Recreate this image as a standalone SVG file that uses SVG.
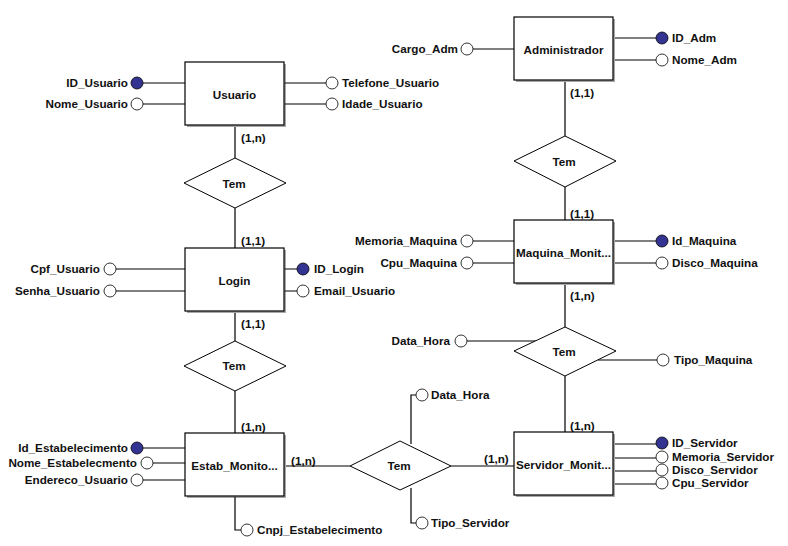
<svg xmlns="http://www.w3.org/2000/svg" width="788" height="546" viewBox="0 0 788 546">
<style>
text{font-family:"Liberation Sans",Arial,sans-serif;font-weight:bold;font-size:11.7px;fill:#111}
.c{text-anchor:middle}
.e{text-anchor:end}
.box{fill:#fff;stroke:#000;stroke-width:1.2}
.sh{fill:#a8a8a8}
.rel{fill:#fff;stroke:#000;stroke-width:1}
.ln{fill:none;stroke:#000;stroke-width:1.2}
.pk{fill:#333391;stroke:#000;stroke-width:0.8}
.at{fill:#fff;stroke:#000;stroke-width:0.8}
</style>
<rect width="788" height="546" fill="#fff"/>
<g id="connectors">
<path class="ln" d="M235 126V158M235 208V248M235 312V341M235 391V433"/>
<path class="ln" d="M565 81V136M565 187V220M565 284V327M565 376V432"/>
<path class="ln" d="M285 466H350M451 466H515"/>
<text x="241" y="142">(1,n)</text>
<text x="241" y="245">(1,1)</text>
<text x="241" y="328">(1,1)</text>
<text x="241" y="431">(1,n)</text>
<text x="291" y="465">(1,n)</text>
<text x="484" y="463">(1,n)</text>
<text x="570" y="97">(1,1)</text>
<text x="570" y="218">(1,1)</text>
<text x="570" y="300">(1,n)</text>
<text x="570" y="430">(1,n)</text>
</g>
<g id="usuario">
<rect class="sh" x="187" y="64" width="99" height="63"/>
<rect class="box" x="185" y="62" width="99" height="63"/>
<text class="c" x="234.5" y="99">Usuario</text>
</g>
<g id="attr-usuario">
<path class="ln" d="M143 83H185M143 104H185M285 83H326M285 104H326"/>
<circle class="pk" cx="137" cy="83" r="6"/><text class="e" x="128" y="87">ID_Usuario</text>
<circle class="at" cx="137" cy="104" r="6"/><text class="e" x="128" y="108">Nome_Usuario</text>
<circle class="at" cx="332" cy="83" r="6"/><text x="342" y="87">Telefone_Usuario</text>
<circle class="at" cx="332" cy="104" r="6"/><text x="342" y="108">Idade_Usuario</text>
</g>
<g id="tem1">
<polygon class="rel" points="235,158 286,183 235,208 184,183"/>
<text class="c" x="234" y="188">Tem</text>
</g>
<g id="login">
<rect class="sh" x="187" y="250" width="99" height="63"/>
<rect class="box" x="185" y="248" width="99" height="63"/>
<text class="c" x="234.5" y="285">Login</text>
</g>
<g id="attr-login">
<path class="ln" d="M116 269H185M116 291H185M285 269H297M285 291H297"/>
<circle class="at" cx="110" cy="269" r="6"/><text class="e" x="100" y="273">Cpf_Usuario</text>
<circle class="at" cx="110" cy="291" r="6"/><text class="e" x="100" y="295">Senha_Usuario</text>
<circle class="pk" cx="303" cy="269" r="6"/><text x="314" y="273">ID_Login</text>
<circle class="at" cx="303" cy="291" r="6"/><text x="314" y="295">Email_Usuario</text>
</g>
<g id="tem2">
<polygon class="rel" points="235,341 286,366 235,391 184,366"/>
<text class="c" x="234" y="370">Tem</text>
</g>
<g id="estab">
<rect class="sh" x="187" y="435" width="99" height="63"/>
<rect class="box" x="185" y="433" width="99" height="63"/>
<text class="c" x="234.5" y="470">Estab_Monito...</text>
</g>
<g id="attr-estab">
<path class="ln" d="M143 448H185M153 463H185M143 480H185M235 497V530H241"/>
<circle class="pk" cx="137" cy="448" r="6"/><text class="e" x="128" y="452">Id_Estabelecimento</text>
<circle class="at" cx="147" cy="463" r="6"/><text class="e" x="137" y="467">Nome_Estabelecmento</text>
<circle class="at" cx="137" cy="480" r="6"/><text class="e" x="128" y="484">Endereco_Usuario</text>
<circle class="at" cx="247" cy="530" r="6"/><text x="257" y="534">Cnpj_Estabelecimento</text>
</g>
<g id="tem3">
<path class="ln" d="M411 444V395H416M411 488V523H416"/>
<polygon class="rel" points="400,441 451,466 400,490 350,466"/>
<text class="c" x="399" y="470">Tem</text>
<circle class="at" cx="422" cy="395" r="6"/><text x="431" y="399">Data_Hora</text>
<circle class="at" cx="422" cy="523" r="6"/><text x="431" y="527">Tipo_Servidor</text>
</g>
<g id="administrador">
<rect class="sh" x="516" y="19" width="99" height="63"/>
<rect class="box" x="514" y="17" width="99" height="63"/>
<text class="c" x="563.5" y="54">Administrador</text>
</g>
<g id="attr-adm">
<path class="ln" d="M473 49H514M615 38H656M615 60H656"/>
<circle class="at" cx="467" cy="49" r="6"/><text class="e" x="458" y="53">Cargo_Adm</text>
<circle class="pk" cx="662" cy="38" r="6"/><text x="672" y="42">ID_Adm</text>
<circle class="at" cx="662" cy="60" r="6"/><text x="672" y="64">Nome_Adm</text>
</g>
<g id="tem5">
<polygon class="rel" points="565,136 616,161 565,187 514,161"/>
<text class="c" x="564" y="166">Tem</text>
</g>
<g id="maquina">
<rect class="sh" x="516" y="222" width="99" height="63"/>
<rect class="box" x="514" y="220" width="99" height="63"/>
<text class="c" x="563.5" y="257">Maquina_Monit...</text>
</g>
<g id="attr-maquina">
<path class="ln" d="M473 241H514M473 263H514M615 241H656M615 263H656"/>
<circle class="at" cx="467" cy="241" r="6"/><text class="e" x="457" y="245">Memoria_Maquina</text>
<circle class="at" cx="467" cy="263" r="6"/><text class="e" x="457" y="267">Cpu_Maquina</text>
<circle class="pk" cx="662" cy="241" r="6"/><text x="672" y="245">Id_Maquina</text>
<circle class="at" cx="662" cy="263" r="6"/><text x="672" y="267">Disco_Maquina</text>
</g>
<g id="tem4">
<path class="ln" d="M467 341H536M598 360H657"/>
<polygon class="rel" points="565,327 616,351 565,376 514,351"/>
<text class="c" x="564" y="356">Tem</text>
<circle class="at" cx="461" cy="341" r="6"/><text class="e" x="450" y="345">Data_Hora</text>
<circle class="at" cx="663" cy="360" r="6"/><text x="674" y="364">Tipo_Maquina</text>
</g>
<g id="servidor">
<rect class="sh" x="516" y="434" width="99" height="63"/>
<rect class="box" x="514" y="432" width="99" height="63"/>
<text class="c" x="563.5" y="469">Servidor_Monit...</text>
</g>
<g id="attr-servidor">
<path class="ln" d="M615 444H656M615 458H656M615 471H656M615 484H656"/>
<circle class="pk" cx="662" cy="443" r="6"/><text x="672" y="447">ID_Servidor</text>
<circle class="at" cx="662" cy="457" r="6"/><text x="672" y="461">Memoria_Servidor</text>
<circle class="at" cx="662" cy="470" r="6"/><text x="672" y="474">Disco_Servidor</text>
<circle class="at" cx="662" cy="483" r="6"/><text x="672" y="487">Cpu_Servidor</text>
</g>
</svg>
